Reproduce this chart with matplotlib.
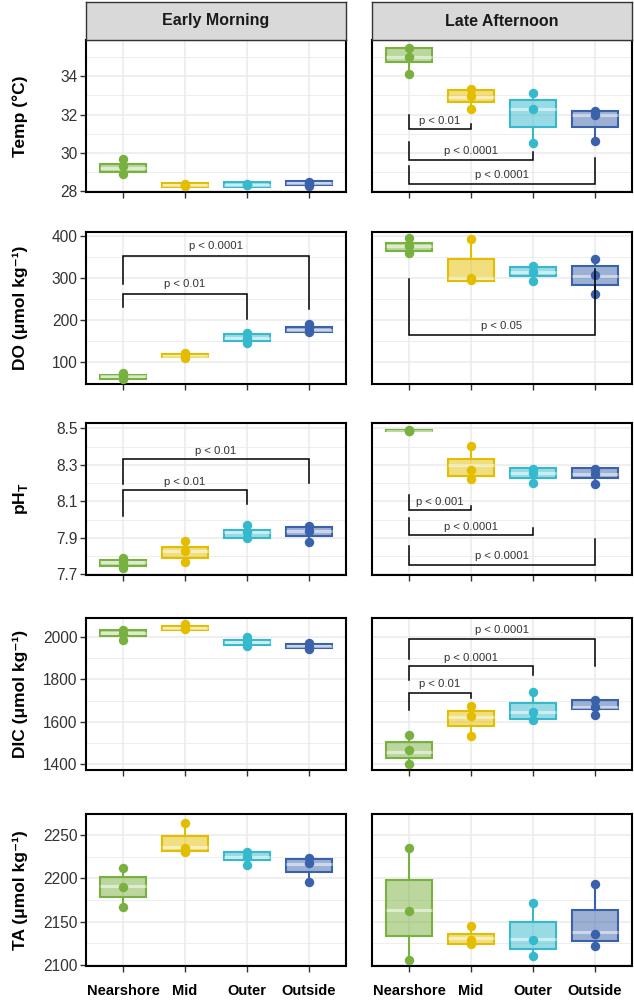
import matplotlib
matplotlib.use("Agg")
import matplotlib.pyplot as plt
from matplotlib.colors import to_rgba
import numpy as np

plt.rcParams['font.family'] = ['Liberation Sans', 'DejaVu Sans']

# ---------------- data ----------------
categories = ["Nearshore", "Mid", "Outer", "Outside"]
periods = ["Early Morning", "Late Afternoon"]
colors = ["#78B13F", "#E3BE00", "#35B9CC", "#3A62AA"]

ylabels = ["Temp (°C)", "DO (μmol kg⁻¹)", r"pH$_\mathregular{T}$", "DIC (μmol kg⁻¹)", "TA (μmol kg⁻¹)"]
ylims = [(27.95, 35.9), (49, 409), (7.696, 8.53), (1372, 2090), (2099, 2274)]
yticks = [[28, 30, 32, 34], [100, 200, 300, 400], [7.7, 7.9, 8.1, 8.3, 8.5],
          [1400, 1600, 1800, 2000], [2100, 2150, 2200, 2250]]
ytick_fmt = ["{:.0f}", "{:.0f}", "{:.1f}", "{:.0f}", "{:.0f}"]

# box stats per site: (q1, median, q3, whisker low, whisker high)
temp_em_box = [(28.97, 29.21, 29.42, 28.88, 29.66), (28.2, 28.3, 28.42, 28.2, 28.42),
               (28.22, 28.33, 28.48, 28.22, 28.48), (28.33, 28.42, 28.53, 28.28, 28.53)]
temp_em_pts = [[29.66, 29.3, 28.88], [28.32, 28.28, 28.36], [28.38, 28.33, 28.3], [28.45, 28.42, 28.26]]
temp_la_box = [(34.74, 35.03, 35.5, 34.13, 35.5), (32.66, 32.9, 33.26, 32.31, 33.33),
               (31.36, 32.3, 32.74, 30.49, 33.13), (31.34, 32.0, 32.2, 30.61, 32.2)]
temp_la_pts = [[35.46, 35.03, 34.13], [33.33, 32.95, 32.31], [33.13, 32.29, 30.49], [32.17, 32.0, 30.61]]

do_em_box = [(61, 67, 71, 60, 76), (112, 116, 121, 110, 123), (152, 158, 167, 145, 170), (173, 178, 185, 172, 191)]
do_em_pts = [[76, 67, 60], [122, 116, 110], [170, 158, 145], [190, 180, 172]]
do_la_box = [(365, 375, 383, 358, 396), (294, 300, 346, 294, 393), (305, 314, 325, 293, 328), (284, 305, 328, 263, 346)]
do_la_pts = [[395, 375, 360], [393, 300, 296], [328, 314, 293], [346, 306, 263]]

ph_em_box = [(7.745, 7.765, 7.78, 7.733, 7.79), (7.79, 7.83, 7.85, 7.77, 7.88),
             (7.90, 7.93, 7.945, 7.896, 7.973), (7.91, 7.935, 7.962, 7.875, 7.965)]
ph_em_pts = [[7.79, 7.765, 7.735], [7.88, 7.83, 7.77], [7.97, 7.93, 7.9], [7.965, 7.935, 7.875]]
ph_la_box = [(8.484, 8.487, 8.49, 8.484, 8.49), (8.238, 8.3, 8.333, 8.218, 8.405),
             (8.229, 8.255, 8.284, 8.2, 8.284), (8.229, 8.25, 8.284, 8.196, 8.284)]
ph_la_pts = [[8.489, 8.487, 8.485], [8.405, 8.27, 8.22], [8.28, 8.255, 8.2], [8.275, 8.25, 8.196]]

dic_em_box = [(2005, 2018, 2033, 1985, 2034), (2035, 2042, 2050, 2035, 2060),
              (1962, 1975, 1986, 1957, 1998), (1947, 1957, 1966, 1943, 1971)]
dic_em_pts = [[2032, 2015, 1985], [2060, 2045, 2038], [1998, 1975, 1957], [1970, 1955, 1945]]
dic_la_box = [(1428, 1458, 1502, 1400, 1537), (1580, 1620, 1650, 1533, 1672),
              (1615, 1646, 1690, 1607, 1741), (1658, 1670, 1702, 1634, 1702)]
dic_la_pts = [[1537, 1466, 1400], [1672, 1625, 1533], [1740, 1645, 1607], [1702, 1670, 1634]]

ta_em_box = [(2179, 2191, 2202, 2167, 2212), (2231, 2236, 2249, 2230, 2264),
             (2221.6, 2225, 2230.7, 2215, 2230.7), (2207, 2217, 2222, 2196, 2223)]
ta_em_pts = [[2212, 2190, 2167], [2264, 2235, 2230], [2230, 2225, 2215], [2223, 2218, 2196]]
ta_la_box = [(2134, 2163, 2198.5, 2106, 2234.5), (2124.6, 2131, 2136.4, 2124, 2144.7),
             (2118, 2130, 2150, 2110.6, 2171), (2127.6, 2138, 2164, 2122, 2193)]
ta_la_pts = [[2234.5, 2162.5, 2106], [2144.7, 2129.5, 2124], [2171, 2129.5, 2110.6], [2193, 2136, 2122]]

boxes = [[temp_em_box, temp_la_box], [do_em_box, do_la_box], [ph_em_box, ph_la_box],
         [dic_em_box, dic_la_box], [ta_em_box, ta_la_box]]
points = [[temp_em_pts, temp_la_pts], [do_em_pts, do_la_pts], [ph_em_pts, ph_la_pts],
          [dic_em_pts, dic_la_pts], [ta_em_pts, ta_la_pts]]

# significance brackets: (row, col, group1, group2, bar y, leg1 end y, leg2 end y, label, label y)
brackets = [
    (0, 1, 0, 1, 31.22, 32.0, 31.52, "p < 0.01", 31.65),
    (0, 1, 0, 2, 29.61, 30.56, 30.04, "p < 0.0001", 30.1),
    (0, 1, 0, 3, 28.36, 29.31, 29.75, "p < 0.0001", 28.83),
    (1, 0, 0, 3, 352, 286.5, 227, "p < 0.0001", 375),
    (1, 0, 0, 2, 263, 231, 203, "p < 0.01", 286),
    (1, 1, 0, 3, 166, 298, 322, "p < 0.05", 187),
    (2, 0, 0, 3, 8.333, 8.196, 8.2, "p < 0.01", 8.378),
    (2, 0, 0, 2, 8.16, 8.018, 8.084, "p < 0.01", 8.205),
    (2, 1, 0, 1, 8.051, 8.133, 8.073, "p < 0.001", 8.096),
    (2, 1, 0, 2, 7.918, 8.009, 7.955, "p < 0.0001", 7.96),
    (2, 1, 0, 3, 7.751, 7.855, 7.896, "p < 0.0001", 7.8),
    (3, 1, 0, 3, 1992, 1898, 1862, "p < 0.0001", 2031),
    (3, 1, 0, 2, 1862, 1796, 1822, "p < 0.0001", 1903),
    (3, 1, 0, 1, 1736, 1654, 1712, "p < 0.01", 1777),
]

# ---------------- layout ----------------
W, H = 634, 1000
fig = plt.figure(figsize=(W / 100, H / 100), dpi=100)
fig.patch.set_facecolor("white")

col_left = [86, 372]
col_width = 260
row_top = [40, 232, 423, 618, 814]
row_h = 152

axes = [[None, None] for _ in range(5)]
xpos = np.arange(1, 5)
for r in range(5):
    for c in range(2):
        ax = fig.add_axes([col_left[c] / W, 1 - (row_top[r] + row_h) / H, col_width / W, row_h / H])
        axes[r][c] = ax
        ax.set_axisbelow(True)
        yt = yticks[r]
        step = yt[1] - yt[0]
        minor = [t + step / 2 for t in [yt[0] - step] + yt]
        ax.set_yticks(yt)
        ax.set_yticks(minor, minor=True)
        ax.set_xticks(xpos)
        ax.grid(True, which="major", color="#EBEBEB", lw=1.1)
        ax.grid(True, which="minor", axis="y", color="#EBEBEB", lw=0.6)
        for s in ax.spines.values():
            s.set_color("black")
            s.set_linewidth(1.5)
        ax.tick_params(which="major", length=4, width=1, color="#333333", labelsize=11.2,
                       labelcolor="#333333", pad=2)
        ax.tick_params(which="minor", length=0)
        if c == 0:
            ax.set_yticklabels([ytick_fmt[r].format(t) for t in yt])
        else:
            ax.tick_params(axis="y", which="both", left=False, labelleft=False)
        if r == 4:
            ax.set_xticklabels(categories, fontsize=10.5, fontweight="bold", color="black")
            ax.tick_params(axis="x", pad=9)
        else:
            ax.set_xticklabels([])

        # boxes
        stats = []
        for (q1, med, q3, lo, hi) in boxes[r][c]:
            stats.append(dict(q1=q1, med=med, q3=q3, whislo=lo, whishi=hi, fliers=[]))
        bp = ax.bxp(stats, positions=xpos, widths=0.75, patch_artist=True, showfliers=False,
                    showcaps=False, manage_ticks=False)
        for i, col in enumerate(colors):
            bp["boxes"][i].set_facecolor(to_rgba(col, 0.5))
            bp["boxes"][i].set_edgecolor(col)
            bp["boxes"][i].set_linewidth(1.5)
            bp["boxes"][i].set_zorder(3)
            bp["medians"][i].set_color(to_rgba("white", 0.5))
            bp["medians"][i].set_linewidth(2.2)
            bp["medians"][i].set_zorder(4)
            for w in bp["whiskers"][2 * i:2 * i + 2]:
                w.set_color(col)
                w.set_linewidth(1.5)
                w.set_zorder(2.5)
        for i, col in enumerate(colors):
            pts = points[r][c][i]
            ax.plot([xpos[i]] * len(pts), pts, "o", color=col, ms=6.8, mec="none", zorder=5)
        ax.set_xlim(0.4, 4.6)
        ax.set_ylim(*ylims[r])

# brackets
for (r, c, g1, g2, yb, y1, y2, lab, ly) in brackets:
    ax = axes[r][c]
    x1, x2 = xpos[g1], xpos[g2]
    ax.plot([x1, x1, x2, x2], [y1, yb, yb, y2], color="black", lw=1.1, zorder=6,
            solid_joinstyle="miter")
    ax.text((x1 + x2) / 2, ly, lab, ha="center", va="center", fontsize=8.2, color="#333333", zorder=7)

# strips
for c in range(2):
    sax = fig.add_axes([col_left[c] / W, 1 - 40 / H, col_width / W, 38 / H])
    sax.set_facecolor("#D9D9D9")
    sax.set_xticks([])
    sax.set_yticks([])
    for s in sax.spines.values():
        s.set_color("#333333")
        s.set_linewidth(1.0)
    sax.text(0.5, 0.5, periods[c], ha="center", va="center", fontsize=11.5, fontweight="bold",
             color="#1A1A1A", transform=sax.transAxes)

# y labels
for r in range(5):
    yc = 1 - (row_top[r] + row_h / 2) / H
    fig.text(20 / W, yc, ylabels[r], rotation=90, ha="center", va="center", fontsize=12.5,
             fontweight="bold", color="black")

fig.savefig("out.png", dpi=100)
